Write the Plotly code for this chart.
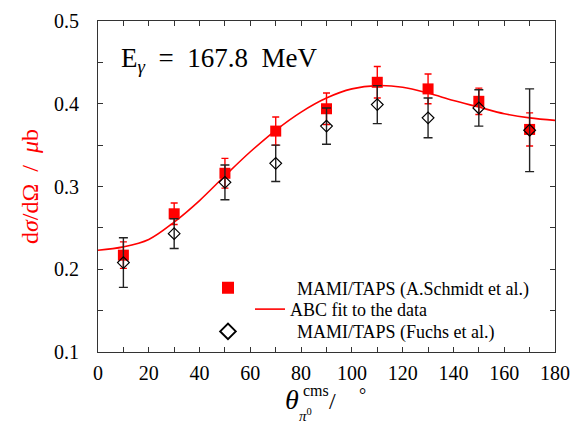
import plotly.graph_objects as go

# ---- data ----
theta_pts = [10, 30, 50, 70, 90, 110, 130, 150, 170]
schmidt_y = [0.217, 0.267, 0.316, 0.367, 0.394, 0.426, 0.418, 0.403, 0.369]
schmidt_err = [0.016, 0.013, 0.018, 0.017, 0.019, 0.019, 0.018, 0.016, 0.020]
fuchs_y = [0.208, 0.243, 0.305, 0.328, 0.373, 0.399, 0.383, 0.395, 0.368]
fuchs_err = [0.030, 0.018, 0.021, 0.022, 0.022, 0.023, 0.024, 0.022, 0.050]

fit_x = [0, 10, 20, 30, 40, 50, 60, 70, 80, 90, 100, 110, 120, 130, 140, 150, 160, 170, 180]
fit_y = [0.223, 0.227, 0.236, 0.257, 0.283, 0.313, 0.342, 0.368, 0.390, 0.407, 0.418, 0.422,
         0.420, 0.413, 0.404, 0.396, 0.388, 0.383, 0.380]

x_ticks = [0, 20, 40, 60, 80, 100, 120, 140, 160, 180]
y_ticks = [0.1, 0.2, 0.3, 0.4, 0.5]

SERIF = "Liberation Serif, serif"
RED = "#ff0000"

L, R, T, B = 98, 33, 10, 76
W, H = 588, 428
PW, PH = W - L - R, H - T - B


def px(xp):
    return (xp - L) / PW


def py(yp):
    return (H - B - yp) / PH


fig = go.Figure()

fig.add_trace(go.Scatter(
    x=fit_x, y=fit_y, mode="lines", line=dict(color=RED, width=1.6, shape="spline"),
    name="ABC fit to the data", legend="legend2"))

fig.add_trace(go.Scatter(
    x=theta_pts, y=schmidt_y, mode="markers",
    marker=dict(symbol="square", size=11, color=RED),
    error_y=dict(type="data", array=schmidt_err, color=RED, thickness=1.4, width=3.5),
    name="MAMI/TAPS (A.Schmidt et al.)", legend="legend"))

fig.add_trace(go.Scatter(
    x=theta_pts, y=fuchs_y, mode="markers",
    marker=dict(symbol="diamond-open", size=9, color="black", line=dict(width=1.2, color="black")),
    error_y=dict(type="data", array=fuchs_err, color="#222222", thickness=1.4, width=4.5),
    name="MAMI/TAPS (Fuchs et al.)", legend="legend3"))

axis_common = dict(showline=True, mirror="ticks", linecolor="#333333", linewidth=1,
                   ticks="inside", ticklen=5, tickcolor="#333333", showgrid=False,
                   zeroline=False, ticklabeloverflow="allow",
                   tickfont=dict(family=SERIF, size=20, color="black"))

fig.update_xaxes(range=[0, 180], tickvals=x_ticks,
                 minor=dict(dtick=10, ticks="inside", ticklen=5, tickcolor="#333333"),
                 ticklabelstandoff=3, **axis_common)
fig.update_yaxes(range=[0.0999, 0.5001], tickvals=y_ticks, tickformat=".1f",
                 minor=dict(dtick=0.05, ticks="inside", ticklen=5, tickcolor="#333333"),
                 ticklabelstandoff=14,
                 title=dict(text="d<i>σ</i>/dΩ  /  <i>μ</i>b",
                            font=dict(family=SERIF, size=24, color=RED), standoff=8),
                 **axis_common)

annotations = [
    dict(text="E<sub><i>γ</i></sub>  =  167.8  MeV", x=px(119), y=py(50), xanchor="left",
         yanchor="middle", font=dict(family=SERIF, size=27, color="black")),
    dict(text="<i>θ</i>", x=px(292), y=py(401), xanchor="center", yanchor="middle",
         font=dict(family=SERIF, size=28, color="black")),
    dict(text="cms", x=px(301), y=py(392), xanchor="left", yanchor="middle",
         font=dict(family=SERIF, size=16, color="black")),
    dict(text="<i>π</i><sup>0</sup>", x=px(297), y=py(417), xanchor="left", yanchor="middle",
         font=dict(family=SERIF, size=15, color="black")),
    dict(text="/", x=px(332), y=py(403), xanchor="center", yanchor="middle",
         font=dict(family=SERIF, size=24, color="black")),
    dict(text="°", x=px(362), y=py(396), xanchor="center", yanchor="middle",
         font=dict(family=SERIF, size=18, color="black")),
]
for a in annotations:
    a.update(xref="paper", yref="paper", showarrow=False)

legend_font = dict(family=SERIF, size=18, color="black")
fig.update_layout(
    width=W, height=H, margin=dict(l=L, r=R, t=T, b=B),
    paper_bgcolor="white", plot_bgcolor="white",
    font=dict(family=SERIF, color="black"),
    showlegend=True,
    legend=dict(x=px(159), y=py(286), xanchor="left", yanchor="middle",
                bgcolor="rgba(0,0,0,0)", itemwidth=128, itemsizing="constant", font=legend_font),
    legend2=dict(x=px(250), y=py(308), xanchor="left", yanchor="middle",
                 bgcolor="rgba(0,0,0,0)", itemwidth=30, font=legend_font),
    legend3=dict(x=px(159), y=py(331), xanchor="left", yanchor="middle",
                 bgcolor="rgba(0,0,0,0)", itemwidth=128, itemsizing="constant", font=legend_font),
    annotations=annotations,
)

fig.write_html("out.html")
